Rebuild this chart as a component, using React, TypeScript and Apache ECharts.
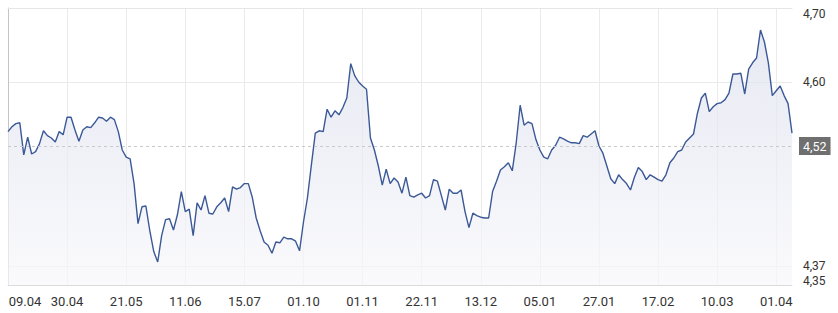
import React, { useEffect, useRef } from 'react';
import * as echarts from 'echarts';

const tickLabels = ['09.04', '30.04', '21.05', '11.06', '15.07', '01.10', '01.11', '22.11', '13.12', '05.01', '27.01', '17.02', '10.03', '01.04'];

const values = [
  4.538, 4.544, 4.548, 4.549, 4.509, 4.531, 4.510, 4.513, 4.523, 4.539,
  4.533, 4.530, 4.525, 4.538, 4.534, 4.556, 4.556, 4.540, 4.526, 4.540,
  4.544, 4.543, 4.549, 4.556, 4.555, 4.551, 4.556, 4.553, 4.538, 4.515,
  4.506, 4.504, 4.473, 4.423, 4.444, 4.445, 4.414, 4.388, 4.375, 4.408,
  4.428, 4.429, 4.415, 4.434, 4.463, 4.438, 4.441, 4.408, 4.449, 4.440,
  4.458, 4.436, 4.435, 4.444, 4.449, 4.455, 4.438, 4.469, 4.466, 4.468,
  4.473, 4.473, 4.456, 4.430, 4.414, 4.400, 4.396, 4.386, 4.400, 4.399,
  4.406, 4.404, 4.404, 4.401, 4.389, 4.425, 4.455, 4.496, 4.536, 4.539,
  4.538, 4.566, 4.556, 4.564, 4.559, 4.568, 4.580, 4.623, 4.608, 4.600,
  4.595, 4.591, 4.530, 4.515, 4.495, 4.471, 4.491, 4.473, 4.480, 4.475,
  4.461, 4.481, 4.458, 4.456, 4.459, 4.461, 4.455, 4.458, 4.478, 4.476,
  4.458, 4.440, 4.466, 4.461, 4.461, 4.465, 4.438, 4.418, 4.436, 4.433,
  4.431, 4.430, 4.430, 4.463, 4.476, 4.490, 4.494, 4.499, 4.489, 4.524,
  4.571, 4.546, 4.550, 4.548, 4.528, 4.515, 4.506, 4.504, 4.515, 4.521,
  4.531, 4.529, 4.526, 4.524, 4.524, 4.523, 4.533, 4.531, 4.535, 4.539,
  4.520, 4.511, 4.495, 4.479, 4.473, 4.484, 4.478, 4.473, 4.465, 4.481,
  4.493, 4.488, 4.478, 4.484, 4.481, 4.478, 4.476, 4.484, 4.499, 4.505,
  4.513, 4.515, 4.525, 4.530, 4.535, 4.561, 4.580, 4.586, 4.563, 4.569,
  4.573, 4.574, 4.578, 4.586, 4.610, 4.610, 4.611, 4.585, 4.616, 4.624,
  4.630, 4.665, 4.650, 4.624, 4.583, 4.589, 4.595, 4.583, 4.573, 4.536,
];

// one category per data point (trading-day index)
const categories = values.map((_, i) => String(i));
const labelStep = 15;
const gridValues = [4.37, 4.60];
const refValue = 4.52;
const topLabel = 4.70;
const bottomLabel = 4.35;
const yMin = 4.34625;
const yMax = 4.6925;

const fmt = (v: number) => v.toFixed(2).replace('.', ',');

export default function App() {
  const ref = useRef<HTMLDivElement>(null);
  useEffect(() => {
    document.body.style.margin = '0';
    const chart = echarts.init(ref.current!, null, { renderer: 'svg' });
    const font = 'Roboto, "Noto Sans", sans-serif';
    chart.setOption({
      animation: false,
      grid: { left: 8, right: 46, top: 8, bottom: 28, containLabel: false },
      xAxis: [
        {
          type: 'category',
          data: categories,
          boundaryGap: false,
          axisLine: { show: true, lineStyle: { color: '#dcdcdc', width: 1 } },
          axisTick: { show: false },
          axisLabel: {
            interval: labelStep - 1,
            margin: 10,
            color: '#333',
            fontSize: 13,
            fontFamily: font,
            formatter: (_v: string, idx: number) => {
              const t = tickLabels[Math.round(idx / labelStep)] ?? '';
              return idx === 0 ? `{first|${t}}` : t;
            },
            rich: {
              first: { padding: [0, 0, 0, 34], color: '#333', fontSize: 13, fontFamily: font },
            },
          },
          splitLine: { show: true, interval: labelStep - 1, lineStyle: { color: '#ebebeb', width: 1 } },
        },
        {
          type: 'category',
          data: categories,
          boundaryGap: false,
          position: 'top',
          axisLine: { show: true, lineStyle: { color: '#e6e6e6', width: 1 } },
          axisTick: { show: false },
          axisLabel: { show: false },
          splitLine: { show: false },
        },
      ],
      yAxis: [
        {
          type: 'value',
          position: 'right',
          min: yMin,
          max: yMax,
          axisLine: { show: false },
          axisTick: { show: false, customValues: gridValues },
          axisLabel: {
            customValues: gridValues,
            margin: 11,
            color: '#333',
            fontSize: 12,
            lineHeight: 11,
            fontFamily: font,
            formatter: (v: number) => fmt(v),
          },
          splitLine: { show: true, lineStyle: { color: '#ebebeb', width: 1 } },
        },
        {
          type: 'value',
          position: 'left',
          min: yMin,
          max: yMax,
          axisLine: { show: true, lineStyle: { color: '#c4c4c4', width: 1 } },
          axisTick: { show: false },
          axisLabel: { show: false },
          splitLine: { show: false },
        },
      ],
      graphic: [
        {
          type: 'text',
          x: 803,
          y: 14,
          style: { text: fmt(topLabel), fill: '#333', fontSize: 12, lineHeight: 11, fontFamily: font, align: 'left', verticalAlign: 'middle' },
        },
        {
          type: 'text',
          x: 803,
          y: 280.5,
          style: { text: fmt(bottomLabel), fill: '#333', fontSize: 12, lineHeight: 11, fontFamily: font, align: 'left', verticalAlign: 'middle' },
        },
      ],
      series: [
        {
          type: 'line',
          data: values,
          xAxisIndex: 0,
          yAxisIndex: 0,
          symbol: 'none',
          showSymbol: false,
          lineStyle: { color: '#3b5996', width: 1.4 },
          areaStyle: {
            origin: 'start',
            color: new echarts.graphic.LinearGradient(0, 0, 0, 1, [
              { offset: 0, color: '#dde0ee' },
              { offset: 1, color: '#f8f8fb' },
            ]),
          },
          markLine: {
            silent: true,
            symbol: 'none',
            data: [{ yAxis: refValue }],
            lineStyle: { color: '#c8c8c8', type: [3, 3], width: 1 },
            label: {
              show: true,
              position: 'end',
              distance: 7,
              formatter: () => fmt(refValue),
              backgroundColor: '#6f6f6f',
              color: '#fff',
              padding: [3, 4, 2, 4],
              fontSize: 12.5,
              fontFamily: font,
            },
          },
        },
      ],
    });
    return () => chart.dispose();
  }, []);
  return <div ref={ref} style={{ position: 'absolute', left: 0, top: 0, width: 838, height: 313 }} />;
}
